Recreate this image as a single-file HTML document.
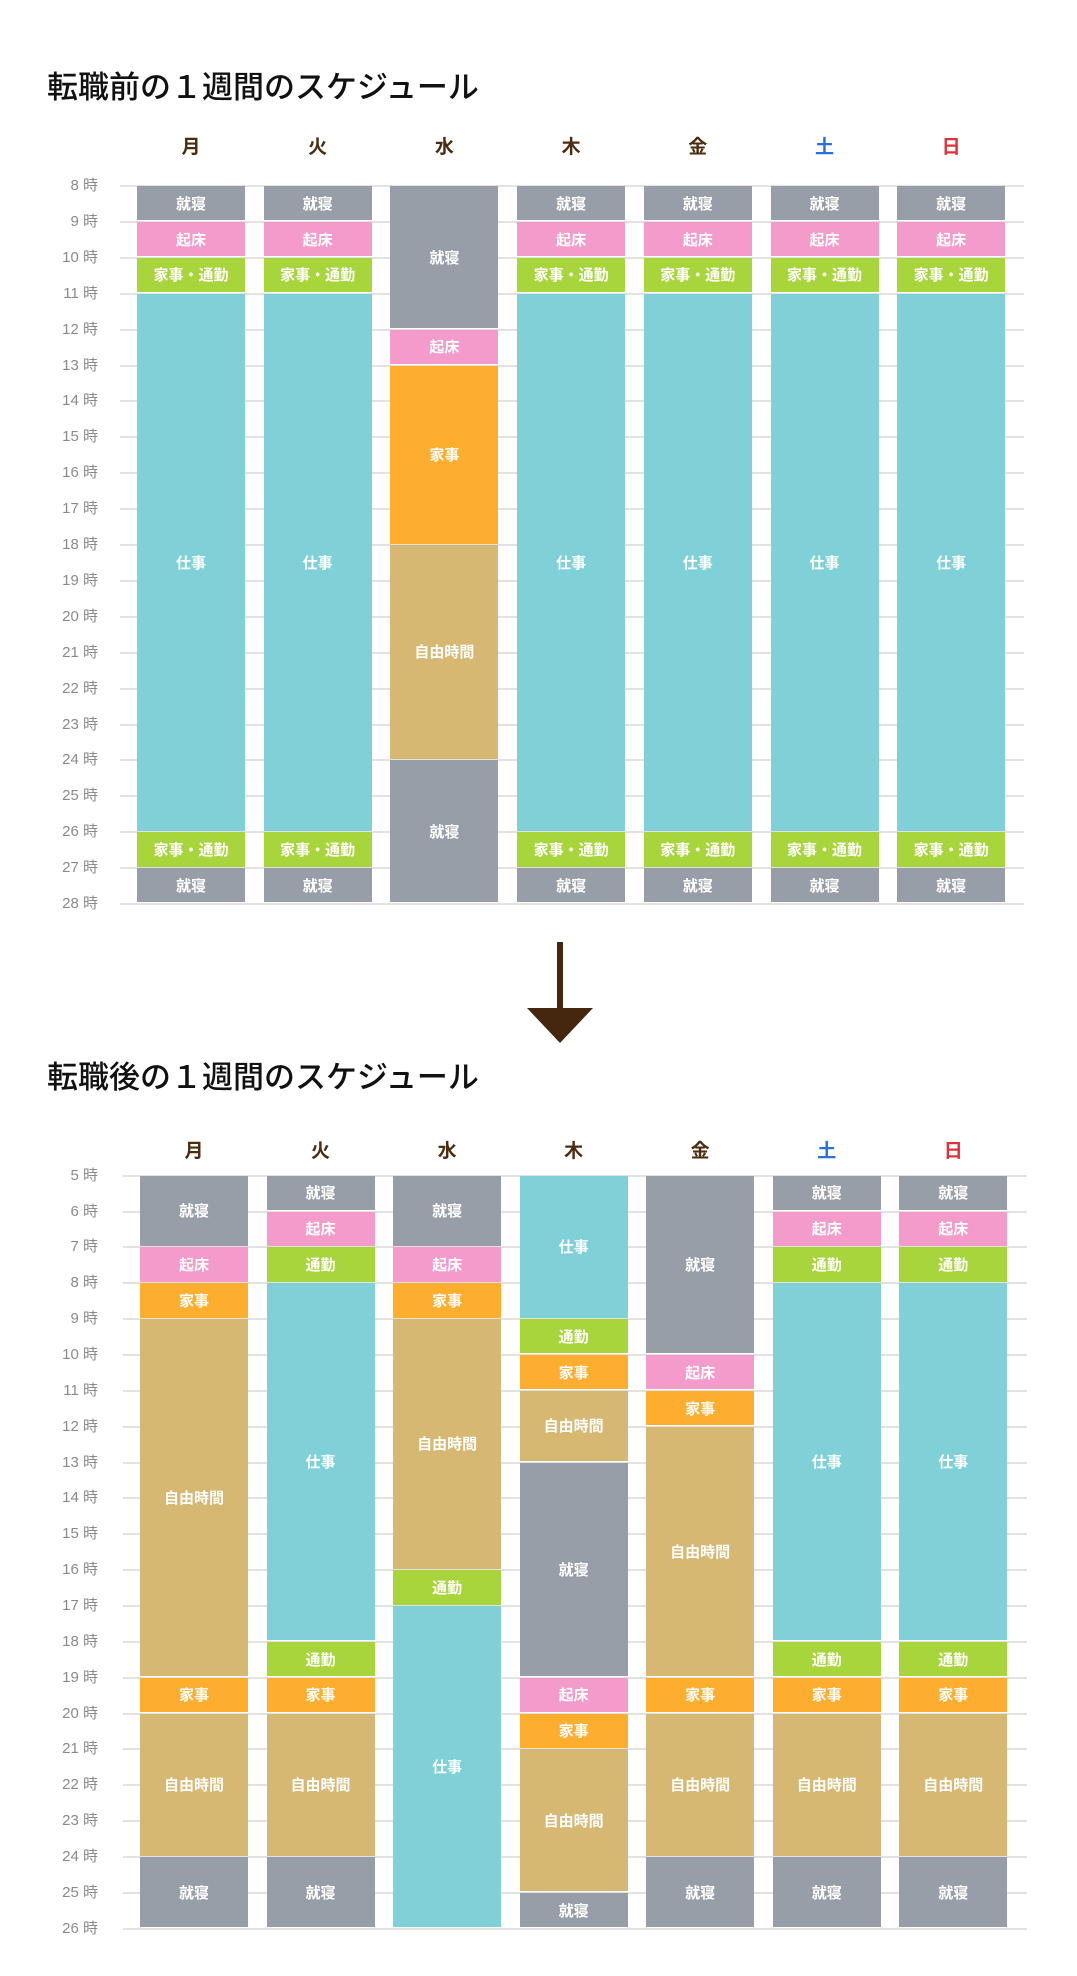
<!DOCTYPE html>
<html><head><meta charset="utf-8">
<style>
html,body{margin:0;padding:0;background:#fff;}
body{width:1077px;height:1976px;position:relative;overflow:hidden;font-family:"Liberation Sans","Noto Sans CJK JP",sans-serif;}
.t{position:absolute;left:47px;font-size:31px;font-weight:500;color:#111;letter-spacing:0px;}
.d{position:absolute;width:108px;text-align:center;font-size:19px;font-weight:700;color:#4a2c10;line-height:22px;}
.hl{position:absolute;height:2px;background:#e2e2e2;}
.hr{position:absolute;width:98px;left:0;text-align:right;font-size:15px;color:#8a8a8a;line-height:20px;}
.b{position:absolute;width:108px;display:flex;align-items:center;justify-content:center;color:#fff;font-size:15px;font-weight:700;}
.g{background:#989ea8}.p{background:#f39bcb}.n{background:#a8d43c}.c{background:#80d0d7}.o{background:#fdae2f}.y{background:#d6b873}
</style></head><body>
<div class="t" style="top:62px">転職前の１週間のスケジュール</div>
<div class="t" style="top:1052px">転職後の１週間のスケジュール</div>
<div style="position:absolute;left:557px;top:942px;width:6px;height:68px;background:#45260e"></div>
<div style="position:absolute;left:527px;top:1008px;width:0;height:0;border-left:33px solid transparent;border-right:33px solid transparent;border-top:35px solid #45260e"></div>
<div id="root"></div>
<script>
var out='';
var days=['月','火','水','木','金','土','日'];
var nm={g:'就寝',p:'起床',n:'家事・通勤',c:'仕事',o:'家事',y:'自由時間',m:'通勤'};
function chart(y0,H,base,end,x0,pitch,dy,gx0,gx1,data){
  for(var h=base;h<=end;h++){var y=y0+(h-base)*H;
    out+='<div class="hl" style="left:'+gx0+'px;width:'+(gx1-gx0)+'px;top:'+(y-1)+'px"></div><div class="hr" style="top:'+(y-10)+'px">'+h+' 時</div>';}
  for(var i=0;i<7;i++){var x=x0+pitch*i;
    var col=i==5?'#2b6fdc':(i==6?'#e0303a':'#4a2c10');
    out+='<div class="d" style="left:'+x+'px;top:'+dy+'px;color:'+col+'">'+days[i]+'</div>';
    data[i].forEach(function(s){var t=y0+(s[0]-base)*H,hh=(s[1]-s[0])*H-1.5;
      var cls=s[2]=='m'?'n':s[2];
      out+='<div class="b '+cls+'" style="left:'+x+'px;top:'+t+'px;height:'+hh+'px">'+nm[s[2]]+'</div>';});
  }
}
var R=[[8,9,'g'],[9,10,'p'],[10,11,'n'],[11,26,'c'],[26,27,'n'],[27,28,'g']];
var W=[[8,12,'g'],[12,13,'p'],[13,18,'o'],[18,24,'y'],[24,28,'g']];
chart(186,35.9,8,28,137,126.7,137,120,1024,[R,R,W,R,R,R,R]);
var T=[[5,6,'g'],[6,7,'p'],[7,8,'m'],[8,18,'c'],[18,19,'m'],[19,20,'o'],[20,24,'y'],[24,26,'g']];
var M=[[5,7,'g'],[7,8,'p'],[8,9,'o'],[9,19,'y'],[19,20,'o'],[20,24,'y'],[24,26,'g']];
var Wd=[[5,7,'g'],[7,8,'p'],[8,9,'o'],[9,16,'y'],[16,17,'m'],[17,26,'c']];
var Th=[[5,9,'c'],[9,10,'m'],[10,11,'o'],[11,13,'y'],[13,19,'g'],[19,20,'p'],[20,21,'o'],[21,25,'y'],[25,26,'g']];
var F=[[5,10,'g'],[10,11,'p'],[11,12,'o'],[12,19,'y'],[19,20,'o'],[20,24,'y'],[24,26,'g']];
chart(1175.7,35.86,5,26,140,126.55,1141,123,1027,[M,T,Wd,Th,F,T,T]);
document.getElementById('root').innerHTML=out;
</script>
</body></html>
